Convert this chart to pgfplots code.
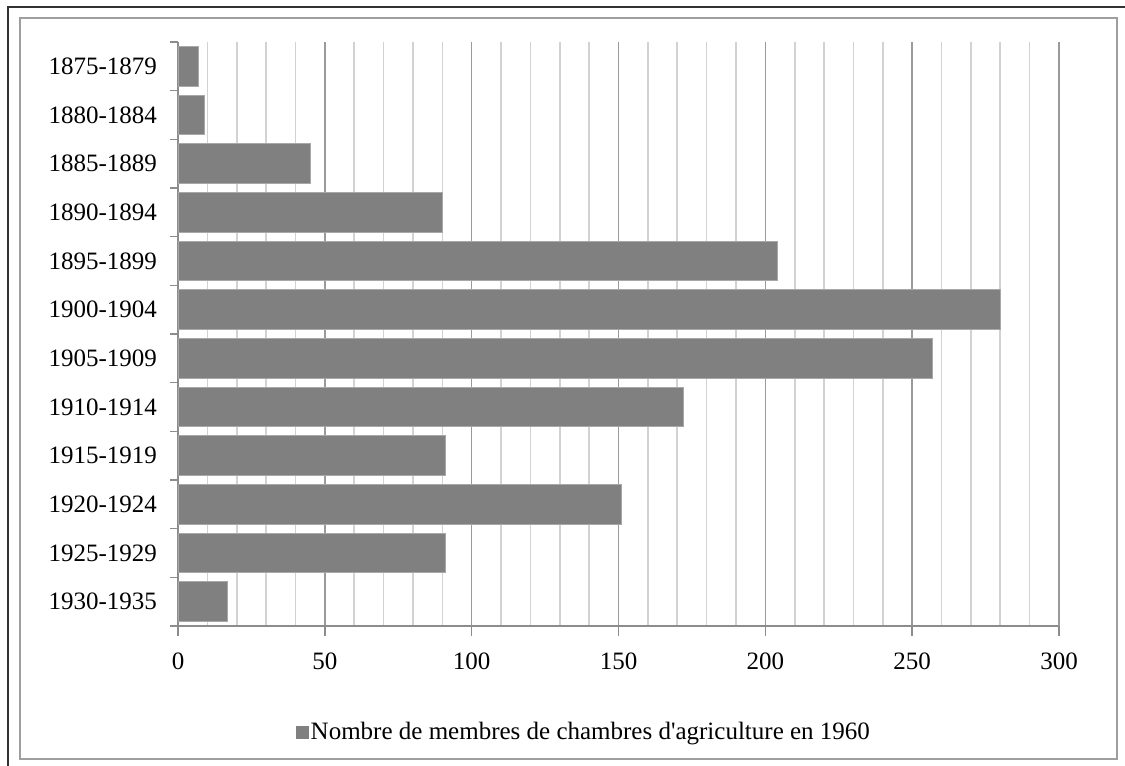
\documentclass[border=0pt]{standalone}
\usepackage{fontspec}
\setmainfont{Liberation Serif}
\usepackage{pgfplots}
\pgfplotsset{compat=1.18}
\definecolor{barfill}{HTML}{808080}
\definecolor{baredge}{HTML}{A8A8A8}
\definecolor{majgrid}{HTML}{9A9A9A}
\definecolor{mingrid}{HTML}{D2D2D2}
\definecolor{axgray}{HTML}{8C8C8C}
\begin{document}
\begin{tikzpicture}
\path[use as bounding box] (0,0) rectangle (562.5pt,383pt);
\draw[line width=1pt,color=black!80] (4pt,0) -- (4pt,379.5pt) -- (562.5pt,379.5pt);
\draw[line width=1pt,color=black!38] (10pt,3.5pt) rectangle (558.5pt,374pt);
\begin{axis}[
  at={(89pt,70pt)}, anchor=south west,
  scale only axis, width=440.5pt, height=292pt,
  xbar, bar width=0.81,
  xmin=0, xmax=300,
  ymin=-0.5, ymax=11.5, y dir=reverse,
  axis lines*=left,
  axis line style={axgray, line width=0.8pt},
  xtick={0,50,...,300},
  minor xtick={10,20,30,40,60,70,80,90,110,120,130,140,160,170,180,190,210,220,230,240,260,270,280,290},
  xmajorgrids, xminorgrids,
  major grid style={majgrid, line width=0.8pt},
  minor grid style={mingrid, line width=0.8pt},
  ytick={0,...,11},
  yticklabels={1875-1879,1880-1884,1885-1889,1890-1894,1895-1899,1900-1904,1905-1909,1910-1914,1915-1919,1920-1924,1925-1929,1930-1935},
  minor ytick={-0.5,0.5,...,11.5},
  tick align=outside,
  major tick length=5pt,
  minor tick length=4pt,
  every major y tick/.style={draw=none},
  every minor x tick/.style={draw=none},
  every major x tick/.style={axgray, line width=0.8pt},
  every minor y tick/.style={axgray, line width=0.8pt},
  tick label style={font=\fontsize{12.5}{14}\selectfont},
  /pgf/number format/assume math mode=true,
  xticklabel style={yshift=-5pt},
  yticklabel style={xshift=-2pt},
  legend style={at={(rel axis cs:0.462,-0.1815)}, anchor=center, draw=none,
    font=\fontsize{12.5}{14}\selectfont, inner sep=0pt},
  legend image code/.code={\fill[barfill] (0pt,-3pt) rectangle (6pt,3pt);},
  legend cell align=left,
]
\addplot[fill=barfill, draw=baredge, line width=0.5pt] coordinates {
(7,0) (9,1) (45,2) (90,3) (204,4) (280,5) (257,6) (172,7) (91,8) (151,9) (91,10) (17,11)
};
\legend{\hspace{-1.2pt}Nombre de membres de chambres d\textquotesingle agriculture en 1960}
\end{axis}
\end{tikzpicture}
\end{document}
